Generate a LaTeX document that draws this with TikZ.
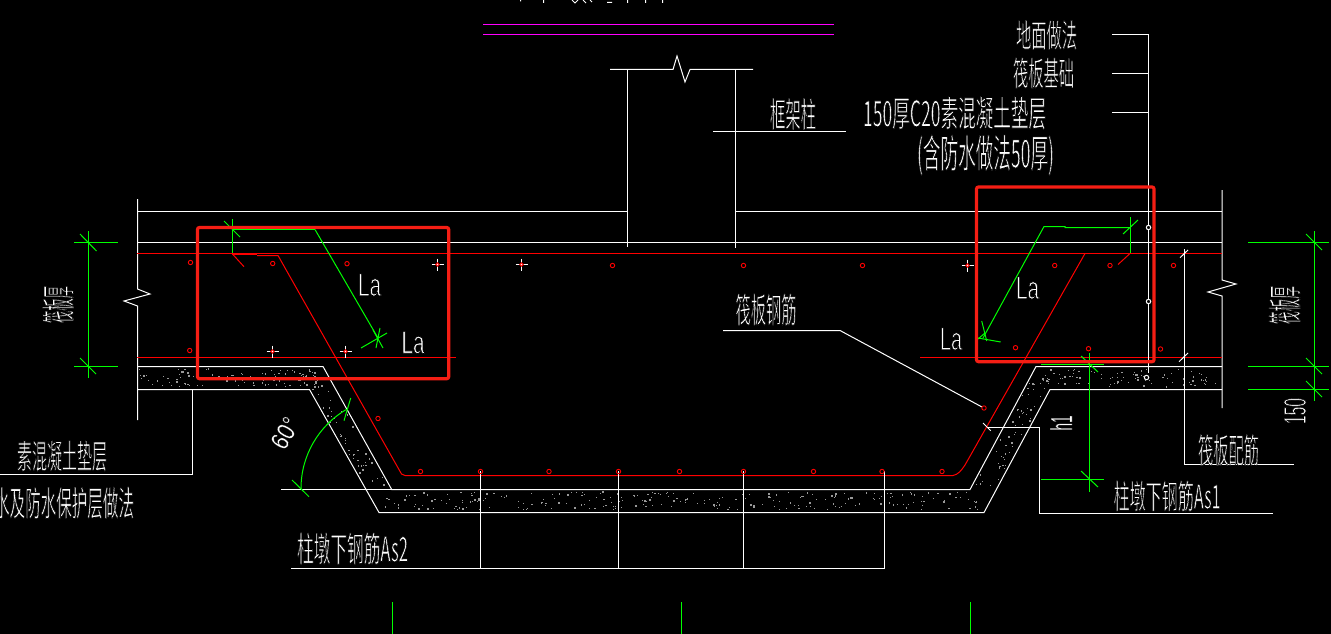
\documentclass[tikz,border=0pt]{standalone}
\usepackage{fontspec}
\usepackage{graphicx}
\setmainfont{Liberation Sans}
\newfontfamily\cjk{Noto Sans CJK SC}
\usetikzlibrary{calc}
\definecolor{cadgreen}{RGB}{0,255,0}
\definecolor{cadred}{RGB}{255,0,0}
\definecolor{boxred}{RGB}{245,30,20}
\definecolor{cadmag}{RGB}{255,0,255}
% thin the glyphs: black outline stroked over the white fill
\newcommand\thin[2]{\special{pdf:code 2 Tr #1 w 0 G}#2\special{pdf:code 0 Tr 1 G}}
\newcommand\fitbox[3]{\resizebox{#1pt}{#2pt}{\thin{0.2}{\cjk #3}}}
\newcommand\latbox[3]{\resizebox{#1pt}{#2pt}{\thin{0.25}{#3}}}
\newcommand\latboxb[3]{\resizebox{#1pt}{#2pt}{\thin{0.08}{#3}}}
\tikzset{
  x=1pt,y=-1pt,
  wl/.style={draw=white,line width=1pt},
  gl/.style={draw=cadgreen,line width=1pt},
  rl/.style={draw=cadred,line width=1pt},
  ml/.style={draw=cadmag,line width=1pt},
  rbox/.style={draw=boxred,line width=3.2pt,rounded corners=2pt},
  lab/.style={text=white,inner sep=0pt,anchor=center},
  bar/.style={draw=cadred,line width=0.9pt},
  wc/.style={draw=white,line width=1pt},
}
\newcommand\rebar[2]{\draw[bar] (#1,#2) circle (2.2pt);}
\newcommand\wplus[2]{\draw[wl] (#1-6,#2)--(#1+6,#2) (#1,#2-6)--(#1,#2+6);\draw[bar] (#1,#2) circle (1.8pt);}
\newcommand\speck[8]{% corners A(#1,#2) B(#3,#4) D(#5,#6) ; count #7
  \foreach \i in {1,...,#7}{
    \pgfmathsetmacro\ss{rnd}\pgfmathsetmacro\tt{rnd}
    \pgfmathsetmacro\sz{0.5+1.0*rnd*rnd*rnd}
    \pgfmathsetmacro\px{#1+\ss*(#3-#1)+\tt*(#5-#1)}
    \pgfmathsetmacro\py{#2+\ss*(#4-#2)+\tt*(#6-#2)}
    \fill[#8] (\px-\sz,\py-\sz) rectangle (\px+\sz,\py+\sz);
  }}
\begin{document}
\begin{tikzpicture}
\useasboundingbox (0,0) rectangle (1331,634);
\fill[black] (0,0) rectangle (1331,634);
\clip (0,0) rectangle (1331,634);
\pgfmathsetseed{4711}
% concrete speckles
\speck{139}{369}{322}{369}{139}{387}{100}{black!40!white}
\speck{325}{376}{388}{486}{303}{376}{55}{black!40!white}
\speck{385}{492}{982}{492}{385}{510}{250}{black!40!white}
\speck{1034}{372}{974}{486}{1056}{372}{55}{black!40!white}
\speck{1040}{369}{1220}{369}{1040}{387}{85}{black!40!white}
% magenta
\draw[ml] (483,24.5)--(834,24.5);
\draw[ml] (483,34.5)--(834,34.5);
% cut top text fragments
\draw[wl] (520.5,0)--(520.5,1.5) (543.5,0)--(543.5,3) (572,0)--(575,3)--(578,0) (583,0)--(586,3) (590,0)--(592,2) (607,2.5)--(612,2.5) (627.5,0)--(627.5,3) (645.5,0)--(645.5,3) (662.5,0)--(662.5,3);
% slab
\draw[wl] (137.5,199)--(137.5,289)--(150,294)--(124,301)--(137.5,306)--(137.5,420);
\draw[wl] (1222,190)--(1222,280)--(1236,284)--(1208,292)--(1222,296)--(1222,408);
\draw[wl] (137,211.5)--(627,211.5);
\draw[wl] (735,211.5)--(1222,211.5);
\draw[wl] (137,242.5)--(1222,242.5);
\draw[rl] (137,253.5)--(1222,253.5);
\draw[rl] (137,357.5)--(456,357.5);
\draw[rl] (920,357.5)--(1222,357.5);
% column
\draw[wl] (610,69.5)--(673,69.5)--(677,56)--(685,82)--(690,69.5)--(753,69.5);
\draw[wl] (627.5,69.5)--(627.5,247);
\draw[wl] (735.5,69.5)--(735.5,248);
\draw[wl] (713,131.5)--(846,131.5);
% cushion outlines
\draw[wl] (137,366.5)--(323,366.5)--(391.7,489.5)--(970,489.5)--(1036,366.5)--(1222,366.5);
\draw[wl] (137,389.5)--(309.5,389.5)--(379,512.5)--(984,512.5)--(1050,389.5)--(1222,389.5);
\draw[wl] (281,489.5)--(392,489.5);
% rebar
\draw[rl] (257,255.5)--(278,255.5)--(401.5,474)--(405,475.5)--(953,475.5) .. controls (958,474.5) and (961,471) .. (965,465) -- (1085,253.5);
\draw[draw=cadred,line width=2pt] (232,254)--(257,254);
\draw[rl] (232,253.5)--(244,266.7);
\draw[rl] (1130,253.5)--(1118,264.5);
% green anchorage left
\draw[gl] (232.5,219)--(232.5,253);
\draw[gl] (315,229.5)--(378,338);
\draw[gl] (224,221)--(240,237);
\draw[gl] (361,348)--(387,333);
\draw[gl] (380,328)--(376,348);
\draw[gl] (373,330)--(383,348);
% green anchorage right
\draw[gl] (1130.5,217)--(1130.5,253);
\draw[gl] (1130.5,227.5)--(1065,227.5)--(1065,226.5)--(1044,226.5)--(983,338);
\draw[gl] (1123,234)--(1138,220);
\draw[gl] (978,338)--(1000.7,342);
\draw[gl] (981.7,321)--(986.7,341);
\draw[gl] (978,339)--(985,333);
% right leaders
\draw[wl] (1148.5,34.5)--(1148.5,373);
\draw[wl] (1112,34.5)--(1148.5,34.5);
\draw[wl] (1112,73.5)--(1148.5,73.5);
\draw[wl] (1112,112.5)--(1148.5,112.5);
\draw[wc,fill=black] (1148.5,227.5) circle (2.2pt);
\draw[wc,fill=black] (1148.5,301.5) circle (2.2pt);
\draw[wc,fill=black] (1146.5,377.5) circle (2.2pt);
% slab reinforcement leader
\draw[wl] (1184.5,249)--(1184.5,464.5)--(1294,464.5);
\draw[wl] (1180,257.7)--(1188,250);
\draw[wl] (1179,361.7)--(1188,353);
% slab bar leader
\draw[wl] (723,330.5)--(840,330.5)--(982,407);
% left leader
\draw[wl] (192.5,389.5)--(192.5,474.5)--(0,474.5);
% As1 leader
\draw[wl] (988,427.5)--(1039.5,427.5)--(1039.5,513.5)--(1273,513.5);
\draw[wl] (983,423)--(990.7,430.7);
% As2 leader
\draw[wl] (291,568.5)--(884,568.5);
\foreach \xx in {480.5,618.5,743.5,884.5}{\draw[wl] (\xx,471)--(\xx,568.5);}
% green dims left
\draw[gl] (88.5,231)--(88.5,378);
\draw[gl] (74,242.5)--(118,242.5);
\draw[gl] (74,366.5)--(118,366.5);
\draw[gl] (80,234)--(96.5,251);
\draw[gl] (80,358)--(96,374);
% green dims right
\draw[gl] (1314.5,231)--(1314.5,400.7);
\draw[gl] (1248,242.5)--(1329,242.5);
\draw[gl] (1248,366.5)--(1329,366.5);
\draw[gl] (1248,389.5)--(1329,389.5);
\draw[gl] (1306,234)--(1322,250);
\draw[gl] (1306,358)--(1322,374);
\draw[gl] (1306,381)--(1322,397);
% h1 dim
\draw[gl] (1089.5,352.7)--(1089.5,491.7);
\draw[gl] (1041,364.5)--(1104,364.5);
\draw[gl] (1041,479.5)--(1104,479.5);
\draw[gl] (1081,356)--(1098,372);
\draw[gl] (1081,471)--(1098,487);
% angle
\draw[gl] (301,488.5) arc[start angle=180,end angle=240,radius=91.5];
\draw[gl] (350.7,398)--(344,420.7);
\draw[gl] (292,480)--(309,496.7);
% bottom green
\draw[gl] (392.5,602)--(392.5,634);
\draw[gl] (681.5,602)--(681.5,634);
\draw[gl] (970.5,602)--(970.5,634);
% rebar dots
\foreach \a/\b in {190.5/262.5,272.7/263.5,347/263.7,612.5/265.5,743.5/265.5,862.5/265.5,1054.7/265.5,1110/265.5,1173.5/265.5,189.7/350.5,1015.5/347.7,1088.5/348.7,1160.5/349,378/418.5,420.5/471.5,480.5/471.5,549/471.5,618.5/471.5,679.5/471.5,743.5/471.5,813.5/471.5,882/471.5,942/471.5,984/408}{\rebar{\a}{\b}}
\wplus{437.5}{264.5}\wplus{521.5}{264.5}\wplus{967.5}{265.5}\wplus{272.5}{351.5}\wplus{345.5}{351.5}
% red boxes
\draw[rbox] (197.5,227.5) rectangle (448.7,378.7);
\draw[rbox] (976.5,187) rectangle (1154,361.7);
\draw[gl] (232.5,229.5)--(315,229.5);
% labels
\node[lab] (t1) at (1046.5,35) {\fitbox{61}{27}{地面做法}};
\node[lab] (t2) at (1043.5,73) {\fitbox{61}{28}{筏板基础}};
\node[lab] (t3) at (954.5,113) {\fitbox{183}{30}{150厚C20素混凝土垫层}};
\node[lab] (t4) at (985.5,155) {\fitbox{137}{33}{(含防水做法50厚)}};
\node[lab] (t5) at (793,114) {\fitbox{46}{29}{框架柱}};
\node[lab] (t6) at (766,309.5) {\fitbox{61}{29}{筏板钢筋}};
\node[lab] (t7) at (1228.5,450) {\fitbox{61}{29}{筏板配筋}};
\node[lab] (t8) at (1167,496) {\fitbox{107}{28}{柱墩下钢筋As1}};
\node[lab] (t9) at (352.5,548.5) {\fitbox{111}{29}{柱墩下钢筋As2}};
\node[lab] (t10) at (62,456) {\fitbox{90}{28}{素混凝土垫层}};
\node[lab] (t11) at (64,503) {\fitbox{140}{29}{水及防水保护层做法}};
\node[lab] (t12) at (369.5,285) {\latbox{23}{22}{La}};
\node[lab] (t13) at (413,342.5) {\latbox{23}{22}{La}};
\node[lab] (t14) at (1027.5,288) {\latbox{23}{22}{La}};
\node[lab] (t15) at (951,339) {\latbox{22}{22}{La}};
\node[lab,rotate=90] (t16) at (58,304.5) {\fitbox{37}{29}{筏板厚}};
\node[lab,rotate=90] (t17) at (1284.5,305) {\fitbox{38}{29}{筏板厚}};
\node[lab,rotate=90] (t18) at (1295,411) {\latbox{26}{22}{150}};
\node[lab,rotate=90] (t19) at (1061,423) {\latboxb{15}{22}{h1}};
\node[lab,rotate=60] (t20) at (285,433) {\latboxb{32}{18}{60°}};
\end{tikzpicture}
\end{document}
